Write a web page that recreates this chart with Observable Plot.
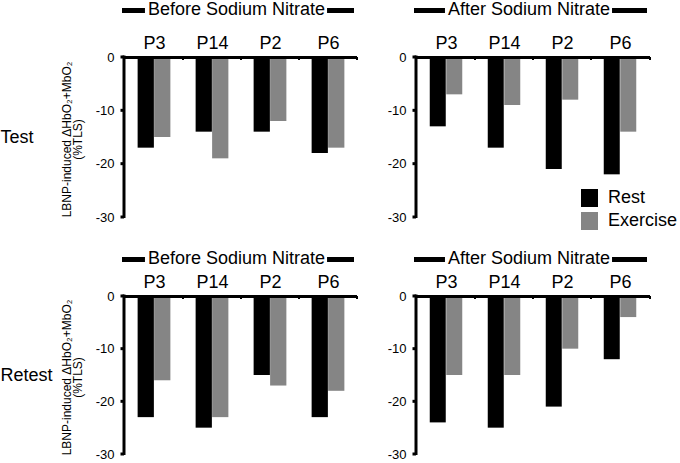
<!DOCTYPE html>
<html>
<head>
<meta charset="utf-8">
<script src="https://cdn.jsdelivr.net/npm/d3@7"></script>
<script src="https://cdn.jsdelivr.net/npm/@observablehq/plot@0.6"></script>
<style>
  html, body { margin: 0; padding: 0; background: #fff; }
  #chart { position: relative; width: 680px; height: 463px; font-family: "Liberation Sans", Arial, sans-serif; color: #000; }
  #chart svg { position: absolute; overflow: visible; }
  .legend { position: absolute; left: 581px; top: 188px; font-size: 18px; }
  .legend .row { display: flex; align-items: center; height: 19px; margin-bottom: 4px; }
  .legend .sw { width: 17px; height: 18px; margin-right: 10px; }
</style>
</head>
<body>
<div id="chart"></div>
<script>
// ---- data ----
const categories = ["P3", "P14", "P2", "P6"];
const series = ["Rest", "Exercise"];
const colors = ["#000000", "#858585"];
const yTicks = [0, -10, -20, -30];
const phaseTitles = ["Before Sodium Nitrate", "After Sodium Nitrate"];
const rowLabels = ["Test", "Retest"];
const yLabel = "LBNP-induced ΔHbO₂+MbO₂\n(%TLS)";

const testBeforeRest = [-17, -14, -14, -18];
const testBeforeExercise = [-15, -19, -12, -17];
const testAfterRest = [-13, -17, -21, -22];
const testAfterExercise = [-7, -9, -8, -14];
const retestBeforeRest = [-23, -25, -15, -23];
const retestBeforeExercise = [-16, -23, -17, -18];
const retestAfterRest = [-24, -25, -21, -12];
const retestAfterExercise = [-15, -15, -10, -4];

const FONT = "Liberation Sans, Arial, sans-serif";
const chart = document.getElementById("chart");
const measureCtx = document.createElement("canvas").getContext("2d");
function textWidth(s, size) {
  measureCtx.font = `${size}px "Liberation Sans", Arial, sans-serif`;
  return measureCtx.measureText(s).width;
}

function panel(o) {
  const {rest, exercise, title, rowLabel, left, top, width, height, ml, mr, mt, mb, titleOffset} = o;
  const frameW = width - ml - mr;
  const step = frameW / categories.length;
  const barW = 16.5;
  const rows = categories.map((c, i) => ({cat: c, rest: rest[i], exercise: exercise[i]}));

  const decorations = (index, scales, values, dims) => {
    const g = d3.create("svg:g").attr("font-family", FONT);
    const x0 = dims.marginLeft, x1 = dims.width - dims.marginRight;
    const y0 = scales.y(0);
    const yMin = scales.y(d3.min(yTicks));
    // y axis line and ticks
    g.append("line").attr("x1", x0).attr("x2", x0).attr("y1", y0 - 1.5).attr("y2", yMin + 1)
      .attr("stroke", "black").attr("stroke-width", 3);
    for (const t of yTicks) {
      const ty = scales.y(t);
      g.append("line").attr("x1", x0 - 3.5).attr("x2", x0).attr("y1", ty).attr("y2", ty)
        .attr("stroke", "black").attr("stroke-width", 3);
    }
    // group boundary ticks on the zero line
    const bounds = categories.slice(1).map(c => scales.x(c)).concat([x1]);
    for (const bx of bounds) {
      g.append("line").attr("x1", bx).attr("x2", bx).attr("y1", y0).attr("y2", y0 + 3)
        .attr("stroke", "black").attr("stroke-width", 2);
    }
    // title with dashes
    const tw = textWidth(title, 18);
    const cx = (x0 + x1) / 2 - 4;
    const base = y0 - titleOffset;
    g.append("text").attr("x", cx).attr("y", base).attr("text-anchor", "middle")
      .attr("font-size", 18).attr("fill", "black").text(title);
    g.append("line").attr("x1", x0 - 2).attr("x2", cx - tw / 2 - 3)
      .attr("y1", base - 4.5).attr("y2", base - 4.5).attr("stroke", "black").attr("stroke-width", 5);
    g.append("line").attr("x1", cx + tw / 2 + 2).attr("x2", x1 - 3)
      .attr("y1", base - 4.5).attr("y2", base - 4.5).attr("stroke", "black").attr("stroke-width", 5);
    return g.node();
  };

  const marks = [
    Plot.barY(rows, {x: "cat", y: "rest", fill: colors[0], insetLeft: step / 2 - barW, insetRight: step / 2}),
    Plot.barY(rows, {x: "cat", y: "exercise", fill: colors[1], insetLeft: step / 2, insetRight: step / 2 - barW}),
    Plot.ruleY([0], {stroke: "black", strokeWidth: 3}),
    Plot.axisY({ticks: yTicks, tickFormat: d => String(d), tickSize: 0, tickPadding: 10, fontSize: 13, label: null}),
    Plot.axisX({anchor: "top", tickSize: 0, tickPadding: 9, fontSize: 18, label: null}),
    decorations
  ];
  if (rowLabel) {
    marks.push(Plot.text([rowLabel], {text: d => d, frameAnchor: "left", dx: -ml, textAnchor: "start", fontSize: 18}));
    marks.push(Plot.text([yLabel], {text: d => d, frameAnchor: "left", dx: -51.5, dy: 2, textAnchor: "middle", lineAnchor: "middle", rotate: -90, fontSize: 12, lineHeight: 0.95}));
  }

  const svg = Plot.plot({
    width, height,
    marginLeft: ml, marginRight: mr, marginTop: mt, marginBottom: mb,
    x: {type: "band", domain: categories, padding: 0, axis: null},
    y: {domain: [-30, 0], axis: null},
    style: {fontFamily: FONT, color: "black", background: "transparent", overflow: "visible"},
    marks
  });
  svg.style.left = left + "px";
  svg.style.top = top + "px";
  chart.appendChild(svg);
}

const L = {left: 0, width: 370, ml: 124, mr: 13};
const R = {left: 370, width: 310, ml: 46, mr: 30};
const T = {top: 0, height: 231, mt: 57, mb: 14, titleOffset: 42};
const B = {top: 231, height: 232, mt: 65, mb: 9, titleOffset: 32};

panel({...L, ...T, rest: testBeforeRest, exercise: testBeforeExercise, title: phaseTitles[0], rowLabel: rowLabels[0]});
panel({...R, ...T, rest: testAfterRest, exercise: testAfterExercise, title: phaseTitles[1]});
panel({...L, ...B, rest: retestBeforeRest, exercise: retestBeforeExercise, title: phaseTitles[0], rowLabel: rowLabels[1]});
panel({...R, ...B, rest: retestAfterRest, exercise: retestAfterExercise, title: phaseTitles[1]});

// legend
const legend = document.createElement("div");
legend.className = "legend";
series.forEach((s, i) => {
  const row = document.createElement("div");
  row.className = "row";
  const sw = document.createElement("div");
  sw.className = "sw";
  sw.style.background = colors[i];
  const t = document.createElement("span");
  t.textContent = s;
  row.appendChild(sw);
  row.appendChild(t);
  legend.appendChild(row);
});
chart.appendChild(legend);
</script>
</body>
</html>
